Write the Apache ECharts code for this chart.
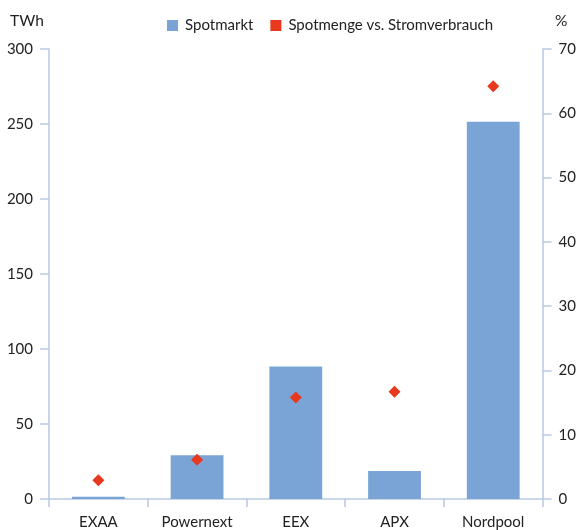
<!DOCTYPE html>
<html><head><meta charset="utf-8">
<script src="https://cdn.jsdelivr.net/npm/echarts@6/dist/echarts.min.js"></script>
<style>html,body{margin:0;padding:0;background:#fff}#c{width:579px;height:530px}</style>
</head><body><div id="c"></div>
<script>
const categories = ['EXAA', 'Powernext', 'EEX', 'APX', 'Nordpool'];
const spotmarkt = [1.5, 29.2, 88.3, 18.6, 251.5];
const spotmenge = [2.9, 6.1, 15.8, 16.7, 64.2];
const leftTicks = { min: 0, max: 300, interval: 50 };
const rightTicks = { min: 0, max: 70, interval: 10 };

const FONT = 'Lato, "DejaVu Sans", sans-serif';
const axisColor = '#b9c9e2';
const chart = echarts.init(document.getElementById('c'));
chart.setOption({
  animation: false,
  textStyle: { fontFamily: FONT },
  grid: { left: 49, right: 34.5, top: 49, bottom: 27.5 },
  legend: {
    top: 13, left: 162, itemWidth: 11, itemHeight: 11, itemGap: 17,
    textStyle: { fontSize: 15, color: '#222', fontFamily: FONT, padding: [0, 0, 0, 2] },
    data: [{ name: 'Spotmarkt', icon: 'rect' }, { name: 'Spotmenge vs. Stromverbrauch', icon: 'rect' }]
  },
  graphic: [
    { type: 'text', left: 10, top: 13, style: { text: 'TWh', fontSize: 15.5, fill: '#222', fontFamily: FONT } },
    { type: 'text', left: 555, top: 13, style: { text: '%', fontSize: 15.5, fill: '#222', fontFamily: FONT } }
  ],
  xAxis: {
    type: 'category', data: categories,
    axisLine: { lineStyle: { color: axisColor, width: 1.5 } },
    axisTick: { show: true, length: 8, lineStyle: { color: axisColor, width: 1.5 } },
    axisLabel: { fontSize: 15, color: '#222', margin: 16 }
  },
  yAxis: [
    {
      type: 'value', min: leftTicks.min, max: leftTicks.max, interval: leftTicks.interval,
      axisLine: { show: true, lineStyle: { color: axisColor, width: 1.5 } },
      axisTick: { show: true, length: 9, lineStyle: { color: axisColor, width: 1.5 } },
      splitLine: { show: false },
      axisLabel: { fontSize: 15, color: '#222', margin: 16 }
    },
    {
      type: 'value', min: rightTicks.min, max: rightTicks.max, interval: rightTicks.interval,
      position: 'right',
      axisLine: { show: true, lineStyle: { color: axisColor, width: 1.5 } },
      axisTick: { show: true, length: 9, lineStyle: { color: axisColor, width: 1.5 } },
      splitLine: { show: false },
      axisLabel: { fontSize: 15, color: '#222', margin: 16 }
    }
  ],
  series: [
    { name: 'Spotmarkt', type: 'bar', data: spotmarkt, yAxisIndex: 0, barWidth: '53.5%',
      itemStyle: { color: '#7ba4d6' } },
    { name: 'Spotmenge vs. Stromverbrauch', type: 'scatter', data: spotmenge, yAxisIndex: 1,
      symbol: 'diamond', symbolSize: 12, itemStyle: { color: '#e8381e', opacity: 1 } }
  ]
});
</script></body></html>
